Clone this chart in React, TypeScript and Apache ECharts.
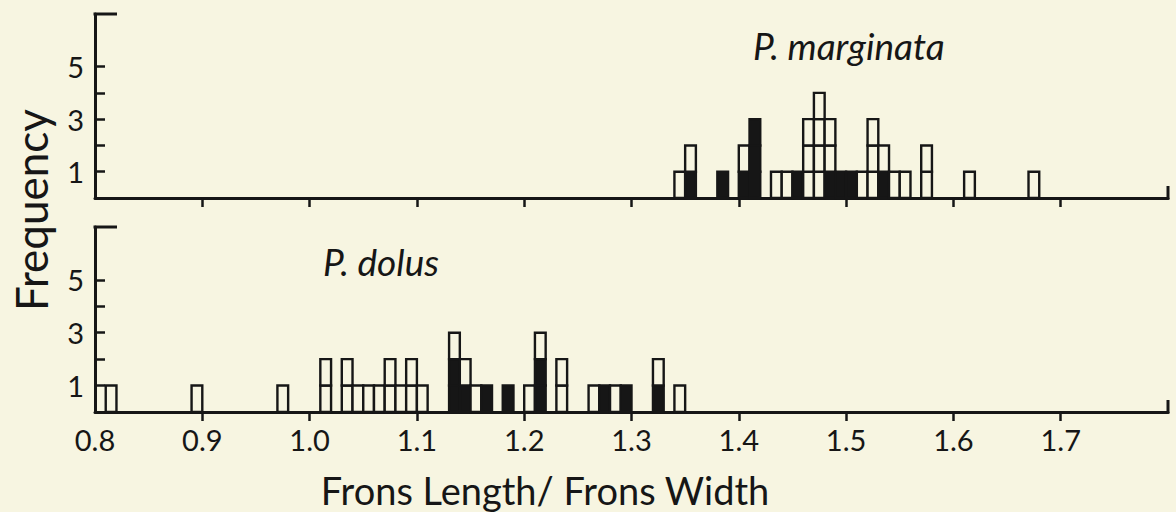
import React, { useEffect, useRef } from "react";
import * as echarts from "echarts";

// P. marginata (top panel): bin start (width 0.01), filled and open counts
const marginataBins = [1.34, 1.35, 1.38, 1.40, 1.41, 1.43, 1.44, 1.45, 1.46, 1.47, 1.48, 1.49, 1.50, 1.51, 1.52, 1.53, 1.54, 1.55, 1.57, 1.61, 1.67];
const marginataFilled = [0, 1, 1, 1, 3, 0, 0, 1, 0, 0, 1, 1, 1, 0, 0, 1, 0, 0, 0, 0, 0];
const marginataOpen = [1, 1, 0, 1, 0, 1, 1, 0, 3, 4, 2, 0, 0, 1, 3, 1, 1, 1, 2, 1, 1];

// P. dolus (bottom panel)
const dolusBins = [0.81, 0.89, 0.97, 1.01, 1.03, 1.04, 1.05, 1.06, 1.07, 1.08, 1.09, 1.10, 1.13, 1.14, 1.15, 1.16, 1.18, 1.20, 1.21, 1.23, 1.26, 1.27, 1.28, 1.29, 1.32, 1.34];
const dolusFilled = [0, 0, 0, 0, 0, 0, 0, 0, 0, 0, 0, 0, 2, 1, 0, 1, 1, 0, 2, 0, 0, 1, 0, 1, 1, 0];
const dolusOpen = [1, 1, 1, 2, 2, 1, 1, 1, 2, 1, 2, 1, 1, 1, 1, 0, 0, 1, 1, 2, 1, 0, 1, 0, 1, 1];

const xTickValues = [0.9, 1.0, 1.1, 1.2, 1.3, 1.4, 1.5, 1.6, 1.7];
const xLabelValues = [0.8, 0.9, 1.0, 1.1, 1.2, 1.3, 1.4, 1.5, 1.6, 1.7];
const yTickValues = [1, 2, 3, 4, 5];
const yLabelValues = [1, 3, 5];

const BIN = 0.01;
const INK = "#161616";
const PAPER = "#f7f5e1";
const FONT = "Lato, 'DejaVu Sans', sans-serif";

function boxes(bins: number[], filled: number[], open: number[]) {
  const out: number[][] = [];
  bins.forEach((b, i) => {
    for (let k = 0; k < filled[i]; k++) out.push([b, k, 1]);
    for (let k = 0; k < open[i]; k++) out.push([b, filled[i] + k, 0]);
  });
  return out;
}

const renderBox = (params: any, api: any) => {
  const x0 = api.value(0);
  const lvl = api.value(1);
  const f = api.value(2);
  const p0 = api.coord([x0, lvl]);
  const p1 = api.coord([x0 + BIN, lvl + 1]);
  return {
    type: "rect",
    shape: { x: p0[0], y: p1[1], width: p1[0] - p0[0], height: p0[1] - p1[1] },
    style: { fill: f ? INK : PAPER, stroke: INK, lineWidth: 2.4 },
  };
};

const GL = 95;
const GR = 1168;
const TOP1 = 14;
const BOT1 = 198;
const TOP2 = 227;
const BOT2 = 412;

function xAxis(gridIndex: number, labels: boolean) {
  return {
    type: "value",
    gridIndex,
    min: 0.8,
    max: 1.8,
    interval: 0.1,
    axisLine: { show: true, onZero: false, lineStyle: { color: INK, width: 3 } },
    axisTick: { show: true, inside: false, length: 9, customValues: xTickValues, lineStyle: { color: INK, width: 2.5 } },
    axisLabel: {
      show: labels,
      customValues: xLabelValues,
      formatter: (v: number) => v.toFixed(1),
      color: INK,
      fontSize: 29,
      fontFamily: FONT,
      margin: 13,
    },
    splitLine: { show: false },
  };
}

function yAxis(gridIndex: number) {
  return {
    type: "value",
    gridIndex,
    min: 0,
    max: 7,
    interval: 1,
    axisLine: { show: true, lineStyle: { color: INK, width: 3 } },
    axisTick: { show: true, inside: true, length: 10, customValues: yTickValues, lineStyle: { color: INK, width: 2.5 } },
    axisLabel: {
      show: true,
      customValues: yLabelValues,
      formatter: (v: number) => String(v),
      color: INK,
      fontSize: 29,
      fontFamily: FONT,
      margin: 11,
    },
    splitLine: { show: false },
  };
}

export default function App() {
  const ref = useRef<HTMLDivElement>(null);
  useEffect(() => {
    document.body.style.margin = "0";
    document.body.style.background = PAPER;
    const chart = echarts.init(ref.current!, undefined, { renderer: "svg" });
    const bracket = (y: number) => ({
      type: "line",
      shape: { x1: GL - 1.5, y1: y, x2: GL + 22, y2: y },
      style: { stroke: INK, lineWidth: 3 },
      silent: true,
    });
    const stub = (y: number) => ({
      type: "line",
      shape: { x1: GR, y1: y + 1.5, x2: GR, y2: y - 12 },
      style: { stroke: INK, lineWidth: 3 },
      silent: true,
    });
    const titleStyle = { color: INK, fontSize: 37, fontStyle: "italic", fontWeight: "normal", fontFamily: FONT };
    chart.setOption({
      animation: false,
      backgroundColor: PAPER,
      title: [
        { text: "P. marginata", left: 748, top: 22, textStyle: titleStyle },
        { text: "P. dolus", left: 318, top: 238, textStyle: titleStyle },
      ],
      grid: [
        { left: GL, top: TOP1, width: GR - GL, height: BOT1 - TOP1 },
        { left: GL, top: TOP2, width: GR - GL, height: BOT2 - TOP2 },
      ],
      xAxis: [xAxis(0, false), xAxis(1, true)],
      yAxis: [yAxis(0), yAxis(1)],
      graphic: [
        bracket(TOP1),
        bracket(TOP2),
        stub(BOT1),
        stub(BOT2),
        {
          type: "text",
          x: 9,
          y: 210,
          rotation: Math.PI / 2,
          style: {
            text: "Frequency",
            fill: INK,
            fontSize: 44,
            fontFamily: FONT,
            align: "center",
            verticalAlign: "top",
          },
          silent: true,
        },
        {
          type: "text",
          x: 545,
          y: 490,
          style: {
            text: "Frons Length/ Frons Width",
            fill: INK,
            fontSize: 38,
            fontFamily: FONT,
            align: "center",
            verticalAlign: "middle",
          },
          silent: true,
        },
      ],
      series: [
        {
          type: "custom",
          name: "P. marginata",
          xAxisIndex: 0,
          yAxisIndex: 0,
          renderItem: renderBox,
          encode: { x: 0, y: 1 },
          data: boxes(marginataBins, marginataFilled, marginataOpen),
          z: 1,
        },
        {
          type: "custom",
          name: "P. dolus",
          xAxisIndex: 1,
          yAxisIndex: 1,
          renderItem: renderBox,
          encode: { x: 0, y: 1 },
          data: boxes(dolusBins, dolusFilled, dolusOpen),
          z: 1,
        },
      ],
    });
    return () => chart.dispose();
  }, []);
  return (
    <div
      ref={ref}
      style={{ position: "absolute", left: 0, top: 0, width: 1176, height: 512, background: PAPER }}
    />
  );
}
